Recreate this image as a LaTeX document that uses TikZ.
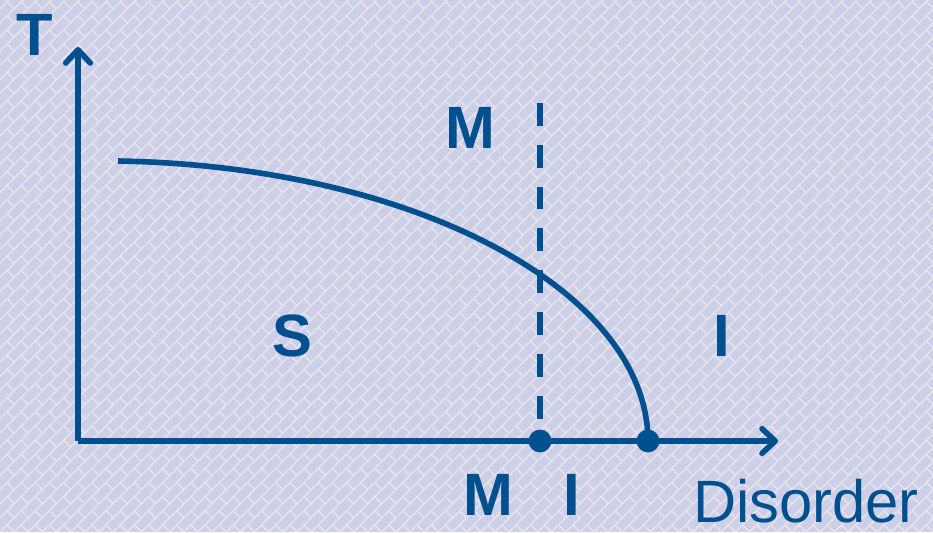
\documentclass[tikz,border=0pt]{standalone}
\usepackage{fontspec}
\setmainfont{Liberation Sans}
\usepackage{xcolor}
\usetikzlibrary{arrows.meta}

\definecolor{phaseblue}{RGB}{0,79,143}
\definecolor{lavender}{RGB}{205,207,232}
\definecolor{weave}{RGB}{228,228,234}

\begin{document}
\begin{tikzpicture}[x=0.02cm, y=0.02cm,
    axis/.style={line width=3.2pt, phaseblue, -{Straight Barb[length=7.5pt, width=14pt, round]}},
    brick/.style={weave, line width=0.9pt},
    phase/.style={font=\fontsize{34}{40}\selectfont\bfseries, text=phaseblue, inner sep=0pt},
    tag/.style={font=\fontsize{34}{40}\selectfont, text=phaseblue, inner sep=0pt},
    dot/.style={circle, fill=phaseblue, minimum size=13pt, inner sep=0pt}]
        \useasboundingbox (0,0) rectangle (933,532);

        % Background
        \fill[lavender] (0,0) rectangle (933,532);
        \begin{scope}
            \clip (0,0) rectangle (933,532);
            \foreach \k in {-40,...,70} \draw[brick] (\k*14.142,0) -- ++(600,600);
            \foreach \m in {0,...,107} \draw[brick, dash pattern=on 5.69pt off 5.69pt] (\m*14.142,0) -- ++(-600,600);
        \end{scope}

        % Axes
        \coordinate (O) at (78,91);
        \coordinate (ytip) at (78,485);
        \coordinate (xtip) at (778,91);
        \draw[axis] (O) -- (ytip);
        \draw[axis] (O) -- (xtip);

        % Points on the axis
        \node[dot] (mi) at (540,91) {};
        \node[dot] (ic) at (648,91) {};

        % Boundary of S
        \coordinate (cstart) at (118,371);
        \draw[line width=3.2pt, phaseblue] (cstart) arc[start angle=88.12, end angle=0, x radius=548, y radius=281];

        % M--I line
        \coordinate (mtop) at (540,429);
        \draw[line width=3.2pt, phaseblue, dash pattern=on 13pt off 10.8pt] (mtop) -- (mi.center);

        % Labels
        \node[phase] (tlab) at (35,497) {T};
        \node[phase] (mup) at (470,404) {M};
        \node[phase] (sup) at (292,196) {S};
        \node[phase] (iright) at (722,196) {I};
        \node[phase] (mlow) at (488,37) {M};
        \node[phase] (ilow) at (572,37) {I};
        \node[tag] (dis) at (806,31) {Disorder};

    \end{tikzpicture}
\end{document}
